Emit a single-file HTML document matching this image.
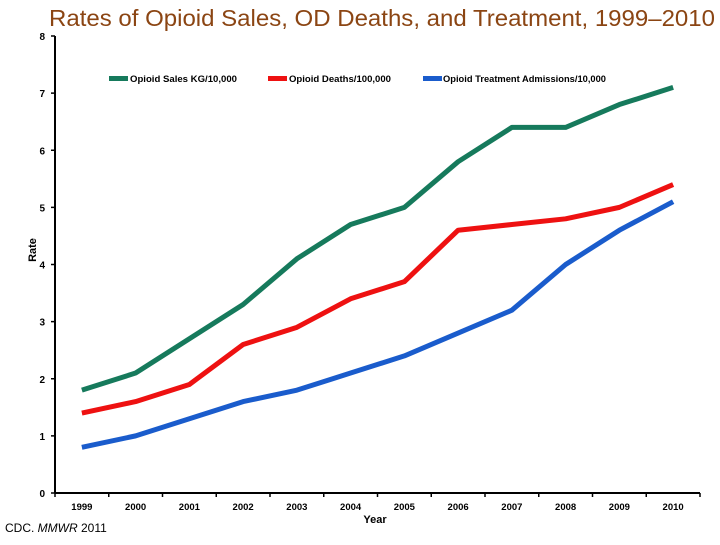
<!DOCTYPE html>
<html><head><meta charset="utf-8"><style>
body{margin:0;background:#fff;}
svg text{font-family:"Liberation Sans",Arial,sans-serif;}
</style></head><body>
<svg id="c" width="720" height="540">
<text x="382" y="26" text-anchor="middle" font-size="23" fill="#8B4513" textLength="666" lengthAdjust="spacingAndGlyphs">Rates of Opioid Sales, OD Deaths, and Treatment, 1999–2010</text>
<g id="axes"></g><g id="lines"></g>
<g>
<rect x="109" y="76" width="19" height="5" fill="#167a5c"/>
<text x="130" y="82" font-size="9.5" font-weight="bold" textLength="107" lengthAdjust="spacingAndGlyphs">Opioid Sales KG/10,000</text>
<rect x="268" y="76" width="19" height="5" fill="#ee1111"/>
<text x="289" y="82" font-size="9.5" font-weight="bold" textLength="102" lengthAdjust="spacingAndGlyphs">Opioid Deaths/100,000</text>
<rect x="423" y="76" width="19" height="5" fill="#1a5ccc"/>
<text x="443" y="82" font-size="9.5" font-weight="bold" textLength="163" lengthAdjust="spacingAndGlyphs">Opioid Treatment Admissions/10,000</text>
</g>
<text x="36" y="250" font-size="11" font-weight="bold" transform="rotate(-90 36 250)" text-anchor="middle">Rate</text>
<text x="375" y="523" font-size="11" font-weight="bold" text-anchor="middle">Year</text>
<text x="5" y="532" font-size="12">CDC. <tspan font-style="italic">MMWR</tspan> 2011</text>
</svg>
<script>
const years=["1999","2000","2001","2002","2003","2004","2005","2006","2007","2008","2009","2010"];
const yTicks=[0,1,2,3,4,5,6,7,8];
const sales=[1.8,2.1,2.7,3.3,4.1,4.7,5.0,5.8,6.4,6.4,6.8,7.1];
const deaths=[1.4,1.6,1.9,2.6,2.9,3.4,3.7,4.6,4.7,4.8,5.0,5.4];
const treatment=[0.8,1.0,1.3,1.6,1.8,2.1,2.4,2.8,3.2,4.0,4.6,5.1];
const NS="http://www.w3.org/2000/svg";
const x0=55,x1=700,yb=493,yt=36;
const bw=(x1-x0)/years.length;
const xs=i=>x0+bw*(i+0.5);
const ys=v=>yb-(v/8)*(yb-yt);
const ax=document.getElementById('axes'),ln=document.getElementById('lines');
function mk(t,a,p){const e=document.createElementNS(NS,t);for(const k in a)e.setAttribute(k,a[k]);p.appendChild(e);return e;}
let e=mk('line',{x1:x0,y1:yt,x2:x0,y2:yb,stroke:'#000','stroke-width':2},ax);


e=mk('line',{x1:x0,y1:yb,x2:x1,y2:yb,stroke:'#000','stroke-width':2},ax);


yTicks.forEach(v=>{
 mk('line',{x1:x0-4,y1:ys(v),x2:x0,y2:ys(v),stroke:'#000','stroke-width':1.5},ax);
 const t=mk('text',{x:x0-10,y:ys(v)+4,'font-size':10,'font-weight':'bold','text-anchor':'end'},ax);
 t.textContent=v;
 
 
});
for(let i=0;i<=years.length;i++)mk('line',{x1:x0+bw*i,y1:yb,x2:x0+bw*i,y2:yb+4,stroke:'#000','stroke-width':1.5},ax);
years.forEach((y,i)=>{
 const t=mk('text',{x:xs(i),y:yb+17,'font-size':9.5,'font-weight':'bold','text-anchor':'middle'},ax);
 t.textContent=y;
 
 
});
[[sales,'#167a5c','line-opioid-sales'],[deaths,'#ee1111','line-opioid-deaths'],[treatment,'#1a5ccc','line-treatment-admissions']].forEach(([d,c,n])=>{
 const p=mk('polyline',{points:d.map((v,i)=>xs(i)+','+ys(v)).join(' '),fill:'none',stroke:c,'stroke-width':5,'stroke-linejoin':'round'},ln);
 
 
});
</script>
</body></html>
